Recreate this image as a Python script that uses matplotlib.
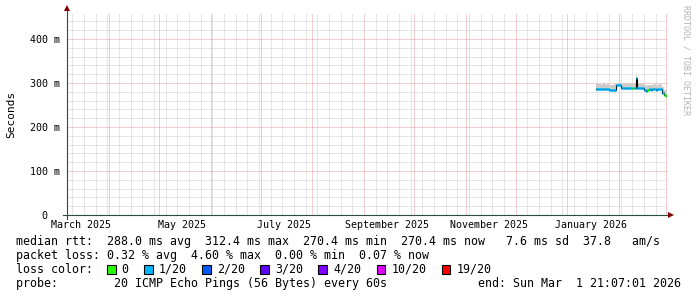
import datetime as dt

import matplotlib
matplotlib.use("Agg")
import matplotlib.pyplot as plt
import matplotlib.dates as mdates
import matplotlib.transforms as mtransforms
from matplotlib.patches import Rectangle
from matplotlib.ticker import MultipleLocator

W, H = 697, 297
MONO = "DejaVu Sans Mono"

END = dt.datetime(2026, 3, 1, 21, 7, 1)
START = END - dt.timedelta(days=360)
FIRST_DAY = dt.datetime(2026, 1, 18)

# one value per day, Jan 18 .. Mar 1 2026 (ms)
median_ms = [287, 287, 287, 286, 287, 287, 286, 287, 284, 283, 283, 284,
             295, 295, 296, 289, 288, 288, 288, 288, 289, 288, 288, 288,
             312.4, 289, 288, 289, 288, 283, 282, 284, 286, 285, 286, 286,
             285, 286, 286, 286, 278, 272, 270.4]
smoke_lo_ms = [285, 285, 285, 284, 285, 285, 284, 285, 282, 281, 281, 282,
               292, 293, 293, 287, 286, 286, 286, 286, 287, 286, 286, 286,
               296, 287, 286, 287, 286, 281, 280, 282, 284, 283, 284, 284,
               283, 284, 284, 284, 275, 270, 268]
smoke_hi_ms = [297, 298, 297, 296, 298, 297, 296, 297, 296, 295, 296, 297,
               300, 301, 300, 298, 297, 298, 297, 298, 299, 297, 298, 297,
               318, 298, 297, 298, 297, 295, 293, 295, 296, 295, 296, 297,
               295, 296, 297, 296, 290, 283, 280]
loss_pct = [0.3, 0.2, 0.4, 0.3, 0.2, 0.3, 0.5, 0.3, 0.6, 0.4, 0.3, 0.2,
            0.4, 0.3, 4.6, 0.3, 0.2, 0.3, 0.4, 0.2, 0.3, 0.3, 0.0, 0.2,
            0.5, 0.3, 0.2, 0.3, 0.4, 0.3, 0.2, 0.0, 0.3, 0.2, 0.3, 0.4,
            0.2, 0.3, 0.3, 0.2, 0.3, 0.0, 0.0]

y_ticks_ms = [0, 100, 200, 300, 400]
y_tick_labels = ["  0", "100 m", "200 m", "300 m", "400 m"]
month_labels = ["March 2025", "May 2025", "July 2025", "September 2025",
                "November 2025", "January 2026"]
month_label_dates = [dt.datetime(2025, 3, 15), dt.datetime(2025, 5, 15),
                     dt.datetime(2025, 7, 15), dt.datetime(2025, 9, 15),
                     dt.datetime(2025, 11, 15), dt.datetime(2026, 1, 15)]

loss_names = ["0", "1/20", "2/20", "3/20", "4/20", "10/20", "19/20"]
loss_colors = ["#26ff00", "#00b8ff", "#0059ff", "#5e00ff", "#7e00ff",
               "#dd00ff", "#ff0000"]
loss_limits = [0, 1, 2, 3, 4, 10, 19]  # lost pings out of 20

legend_lines = [
    "median rtt:  288.0 ms avg  312.4 ms max  270.4 ms min  270.4 ms now   7.6 ms sd  37.8   am/s",
    "packet loss: 0.32 % avg  4.60 % max  0.00 % min  0.07 % now",
    "loss color:",
    "probe:        20 ICMP Echo Pings (56 Bytes) every 60s",
]
end_label = "end: Sun Mar  1 21:07:01 2026"


def fx(px):
    return px / W


def fy(py):
    return 1 - py / H


def loss_color(pct):
    lost = pct / 100 * 20
    for limit, color in zip(loss_limits, loss_colors):
        if lost <= limit:
            return color
    return loss_colors[-1]


fig = plt.figure(figsize=(W / 100, H / 100), dpi=100)
ax = fig.add_axes([fx(67), fy(215), 600 / W, 202 / H])
ax.set_xlim(mdates.date2num(START), mdates.date2num(END))
ax.set_ylim(0, 459)
for s in ax.spines.values():
    s.set_visible(False)

ax.xaxis.set_major_locator(mdates.MonthLocator())
ax.xaxis.set_minor_locator(mdates.WeekdayLocator(byweekday=mdates.MO))
ax.yaxis.set_major_locator(MultipleLocator(100))
ax.yaxis.set_minor_locator(MultipleLocator(20))
ax.tick_params(which="both", length=0, labelbottom=False, labelleft=False)
ax.grid(which="minor", color="#cdcdcd", lw=0.72, ls=(0, (1, 1)))
ax.grid(which="major", color="#e89c9c", lw=0.72, ls=(0, (1, 1)))
ax.set_axisbelow(True)

# data
days = [FIRST_DAY + dt.timedelta(days=i) for i in range(len(median_ms))]
edges = mdates.date2num(days + [END])
ax.fill_between(edges, smoke_lo_ms + smoke_lo_ms[-1:], smoke_hi_ms + smoke_hi_ms[-1:],
                step="post", color="#cccccc", lw=0)
ax.step(edges, median_ms + median_ms[-1:], where="post", color="black", lw=0.8)
ax.hlines(median_ms, edges[:-1], edges[1:], colors=[loss_color(p) for p in loss_pct], lw=2.0)

# axes with arrows
ax.plot([0, 0], [-4 / 202, 1.015], color="#2c4d43", lw=0.8, transform=ax.transAxes, clip_on=False)
ax.plot([-4 / 600, 1.004], [0, 0], color="#2c4d43", lw=0.8, transform=ax.transAxes, clip_on=False)
ax.plot([0], [1.025], marker="^", ms=4.5, color="#7f0000", mew=0, transform=ax.transAxes, clip_on=False)
ax.plot([1.007], [0], marker=">", ms=4.5, color="#7f0000", mew=0, transform=ax.transAxes, clip_on=False)

# tick labels
ty = mtransforms.blended_transform_factory(fig.transFigure, ax.transData)
for v, lab in zip(y_ticks_ms, y_tick_labels):
    fig.text(fx(30), v, lab, transform=ty, family=MONO, size=7.2, ha="left", va="center_baseline")
tx = mtransforms.blended_transform_factory(ax.transData, fig.transFigure)
for d, lab in zip(month_label_dates, month_labels):
    fig.text(mdates.date2num(d), fy(228), lab, transform=tx, family=MONO, size=7.2, ha="center", va="baseline")

fig.text(fx(11), fy(114), "Seconds", family=MONO, size=8, rotation=90, ha="center", va="center")
fig.text(fx(686), fy(5), "RRDTOOL / TOBI OETIKER", family=MONO, size=6, rotation=270,
         ha="center", va="top", color="#b4b4b4")

# legend
CW = 7.0
for i, line in enumerate(legend_lines):
    fig.text(fx(16), fy(245 + 14 * i), line, family=MONO, size=8.4, va="baseline")
fig.text(fx(16 + 66 * CW), fy(287), end_label, family=MONO, size=8.4, va="baseline")

col = 13
for name, color in zip(loss_names, loss_colors):
    x0 = 16 + col * CW
    fig.add_artist(Rectangle((fx(x0), fy(274)), 8.5 / W, 9.5 / H, transform=fig.transFigure,
                             facecolor=color, edgecolor="black", lw=0.8))
    fig.text(fx(x0 + 2.1 * CW), fy(273), name, family=MONO, size=8.4, va="baseline")
    col += 2.1 + len(name) + 2.2

fig.savefig("out.png", dpi=100, facecolor="white")
